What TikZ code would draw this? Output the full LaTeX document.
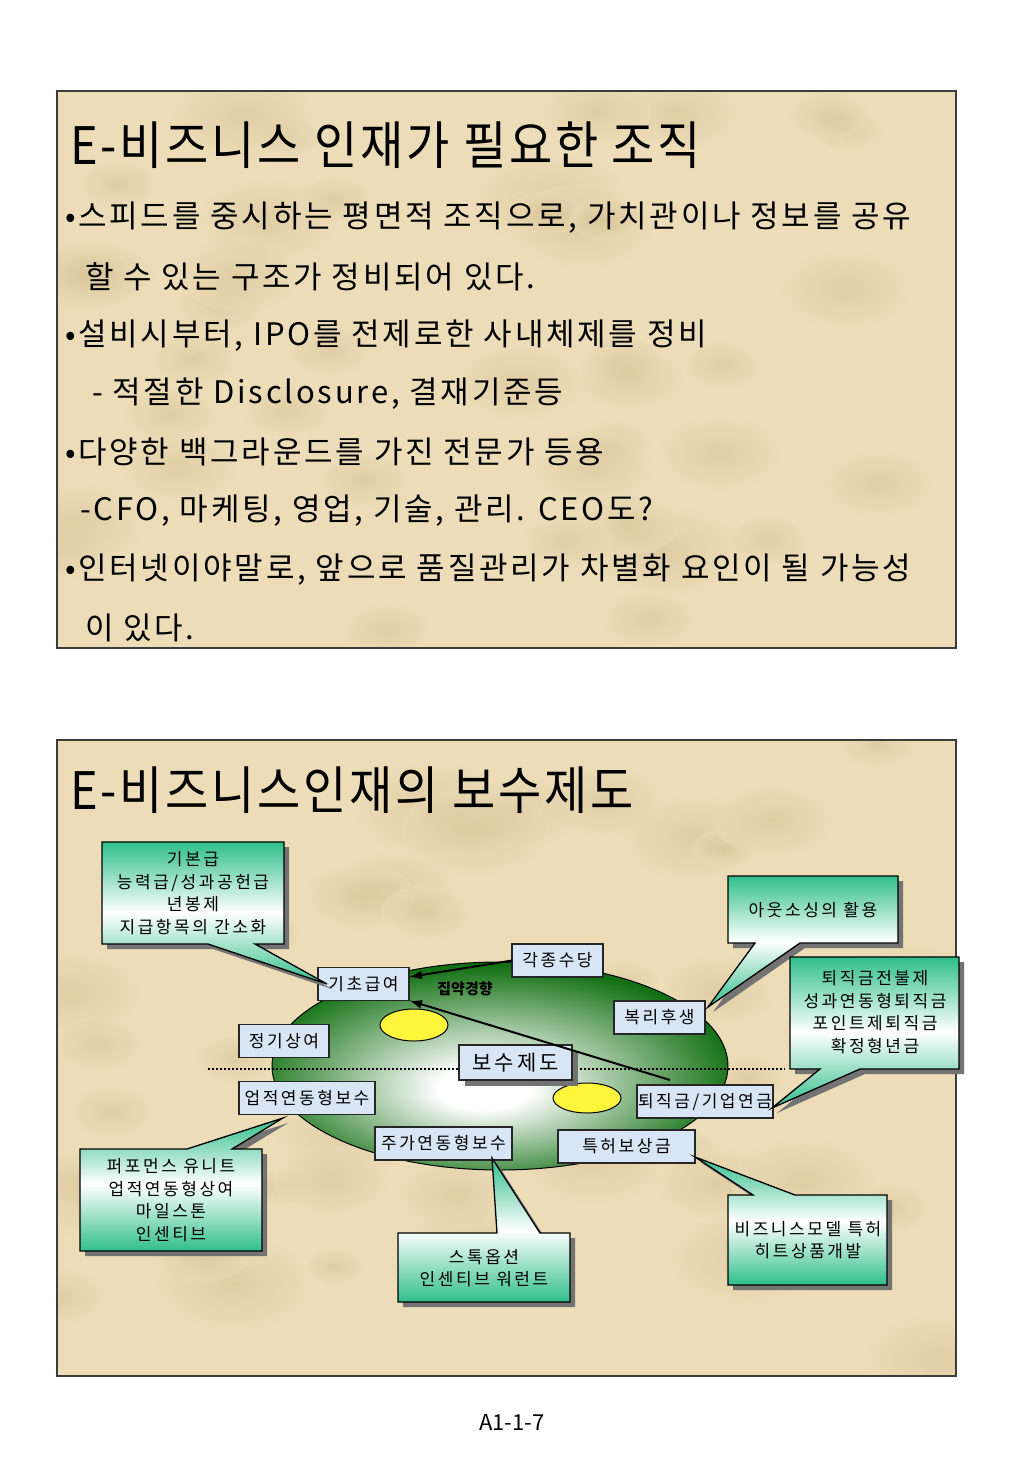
\documentclass[tikz,border=0pt]{standalone}
\usepackage{fontspec}
\setmainfont{Noto Sans CJK KR}
\newfontfamily\bodyfont[LetterSpace=9]{Noto Sans CJK KR}
\newfontfamily\titlefont[LetterSpace=6]{Noto Sans CJK KR}
\newfontfamily\diagfont[LetterSpace=15]{Noto Sans CJK KR}
\usetikzlibrary{arrows.meta,shadings}
\definecolor{parch}{RGB}{236,221,184}
\definecolor{parchdark}{RGB}{210,186,140}
\definecolor{framec}{RGB}{60,60,60}
\definecolor{boxblue}{RGB}{216,229,244}
\definecolor{callg}{RGB}{48,190,140}
\definecolor{dgreen}{RGB}{18,112,18}
\definecolor{yel}{RGB}{255,245,60}
\pgfdeclareradialshading{ellshade}{\pgfpoint{-2bp}{-6bp}}{color(0bp)=(white); color(5bp)=(white); color(16bp)=(dgreen!50!white); color(27bp)=(dgreen); color(50bp)=(dgreen)}
\begin{document}
\begin{tikzpicture}[x=1pt,y=-1pt,
  every node/.style={inner sep=0pt, outer sep=0pt},
  bodytxt/.style={anchor=west, font=\bodyfont\fontsize{31}{31}\selectfont},
  titletxt/.style={anchor=west, font=\titlefont\fontsize{47}{47}\selectfont},
  labbox/.style={draw=black!85, line width=1.3pt, fill=boxblue, font=\diagfont\fontsize{17}{17}\selectfont, minimum height=33pt},
  callout/.style={draw=black, line width=1.3pt, top color=callg, bottom color=callg, middle color=white},
  callshadow/.style={fill=black!55},
  calltxt/.style={align=center, font=\diagfont\fontsize{17}{22.5}\selectfont},
  arr/.style={line width=2pt, -{Latex[length=13pt,width=9pt]}},
  blot/.style={inner color=parchdark, outer color=parch},
]
\useasboundingbox (0,0) rectangle (1024,1479);
\fill[white] (0,0) rectangle (1024,1479);

% ---------- slide backgrounds with soft mottling ----------
\fill[parch] (57,91) rectangle (956,648);
\fill[parch] (57,740) rectangle (956,1376);
\pgfmathsetseed{11}
\begin{scope}
  \clip (57,91) rectangle (956,648);
  \foreach \i in {1,...,40} {
    \pgfmathsetmacro{\bx}{57+rnd*899}
    \pgfmathsetmacro{\by}{91+rnd*557}
    \pgfmathsetmacro{\br}{30+rnd*50}
    \shade[blot, opacity=0.45] (\bx,\by) ellipse [x radius=\br, y radius=0.6*\br];
  }
\end{scope}
\begin{scope}
  \clip (57,740) rectangle (956,1376);
  \foreach \i in {1,...,45} {
    \pgfmathsetmacro{\bx}{57+rnd*899}
    \pgfmathsetmacro{\by}{740+rnd*636}
    \pgfmathsetmacro{\br}{30+rnd*50}
    \shade[blot, opacity=0.45] (\bx,\by) ellipse [x radius=\br, y radius=0.6*\br];
  }
\end{scope}
\draw[framec, line width=1.5pt] (57,91) rectangle (956,648);
\draw[framec, line width=1.5pt] (57,740) rectangle (956,1376);

% ---------- slide 1 ----------
\node[titletxt] (t1) at (70,145) {\scalebox{1}[1.1]{E-비즈니스 인재가 필요한 조직}};
\node[bodytxt] (l1) at (65,218) {•스피드를 중시하는 평면적 조직으로, 가치관이나 정보를 공유};
\node[bodytxt] (l2) at (85,277) {할 수 있는 구조가 정비되어 있다.};
\node[bodytxt] (l3) at (65,336) {•설비시부터, IPO를 전제로한 사내체제를 정비};
\node[bodytxt] (l4) at (92,394) {- 적절한 Disclosure, 결재기준등};
\node[bodytxt] (l5) at (65,452) {•다양한 백그라운드를 가진 전문가 등용};
\node[bodytxt] (l6) at (80,511) {-CFO, 마케팅, 영업, 기술, 관리. CEO도?};
\node[bodytxt] (l7) at (65,570) {•인터넷이야말로, 앞으로 품질관리가 차별화 요인이 될 가능성};
\node[bodytxt] (l8) at (85,628) {이 있다.};

% ---------- slide 2 ----------
\node[titletxt] (t2) at (70,790) {\scalebox{1}[1.1]{E-비즈니스인재의 보수제도}};

% big ellipse
\shade[shading=ellshade, draw=black, line width=1pt] (500,1066) ellipse [x radius=228, y radius=104];
% dotted line
\coordinate (dl) at (208,1069);
\coordinate (dr) at (785,1069);
\draw[line width=1.6pt, dash pattern=on 1.6pt off 2.4pt] (dl) -- (dr);
% yellow ellipses
\filldraw[fill=yel, draw=black, line width=1pt] (414,1025) ellipse [x radius=34, y radius=16];
\filldraw[fill=yel, draw=black, line width=1pt] (587,1098) ellipse [x radius=34, y radius=15];

% label boxes
\node[labbox, minimum width=91pt] (kicho) at (363.5,984) {기초급여};
\node[labbox, minimum width=90pt] (jeonggi) at (284,1041) {정기상여};
\node[labbox, minimum width=136pt] (eopjeok) at (307,1098) {업적연동형보수};
\node[labbox, minimum width=91pt] (kakjong) at (557.5,960.5) {각종수당};
\node[labbox, minimum width=91pt] (bokri) at (659.5,1017.5) {복리후생};
\node[labbox, minimum width=136pt] (toejik) at (705,1101.5) {퇴직금/기업연금};
\node[labbox, minimum width=137pt] (juga) at (443.5,1143.5) {주가연동형보수};
\node[labbox, minimum width=137pt] (teukheo) at (626.5,1146.5) {특허보상금};
\fill[black!55] (465,1051) rectangle (578,1086);
\node[labbox, minimum width=113pt, minimum height=35pt, font=\diagfont\fontsize{21}{21}\selectfont] (bosu) at (515.5,1062.5) {보수제도};
\node[font=\fontsize{15}{15}\selectfont\bfseries] (jibyak) at (465,989) {집약경향};

% arrows
\draw[arr] (kakjong.west) -- ([yshift=7pt]kicho.east);
\coordinate (longstart) at (670,1080);
\draw[arr] (longstart) -- (kicho.south east);

% callouts
\coordinate (tipA) at (327,984);
\fill[callshadow, shift={(5,5)}] (102,842) -- (284,842) -- (284,944) -- (255,944) -- (327,984) -- (208,944) -- (102,944) -- cycle;
\path[callout] (102,842) -- (284,842) -- (284,944) -- (255,944) -- (tipA) -- (208,944) -- (102,944) -- cycle;
\node[calltxt] (cA) at (193,893) {기본급\\능력급/성과공헌급\\년봉제\\지급항목의 간소화};

\coordinate (tipB) at (708,1007);
\fill[callshadow, shift={(5,5)}] (728,876) -- (898,876) -- (898,943) -- (800,943) -- (708,1007) -- (755,943) -- (728,943) -- cycle;
\path[callout] (728,876) -- (898,876) -- (898,943) -- (800,943) -- (tipB) -- (755,943) -- (728,943) -- cycle;
\node[calltxt] (cB) at (813,910) {아웃소싱의 활용};

\coordinate (tipC) at (772,1108);
\fill[callshadow, shift={(5,5)}] (790,957) -- (959,957) -- (959,1069) -- (860,1069) -- (772,1108) -- (820,1069) -- (790,1069) -- cycle;
\path[callout] (790,957) -- (959,957) -- (959,1069) -- (860,1069) -- (tipC) -- (820,1069) -- (790,1069) -- cycle;
\node[calltxt] (cC) at (875,1012) {퇴직금전불제\\성과연동형퇴직금\\포인트제퇴직금\\확정형년금};

\coordinate (tipD) at (283,1118);
\fill[callshadow, shift={(5,5)}] (80,1149) -- (187,1149) -- (283,1118) -- (232,1149) -- (262,1149) -- (262,1251) -- (80,1251) -- cycle;
\path[callout] (80,1149) -- (187,1149) -- (tipD) -- (232,1149) -- (262,1149) -- (262,1251) -- (80,1251) -- cycle;
\node[calltxt] (cD) at (171,1200) {퍼포먼스 유니트\\업적연동형상여\\마일스톤\\인센티브};

\coordinate (tipE) at (492,1158);
\fill[callshadow, shift={(5,5)}] (398,1233) -- (497,1233) -- (492,1158) -- (540,1233) -- (570,1233) -- (570,1302) -- (398,1302) -- cycle;
\path[callout] (398,1233) -- (497,1233) -- (tipE) -- (540,1233) -- (570,1233) -- (570,1302) -- (398,1302) -- cycle;
\node[calltxt] (cE) at (484,1268) {스톡옵션\\인센티브 워런트};

\coordinate (tipF) at (695,1157);
\fill[callshadow, shift={(5,5)}] (728,1195) -- (753,1195) -- (695,1157) -- (795,1195) -- (887,1195) -- (887,1285) -- (728,1285) -- cycle;
\path[callout] (728,1195) -- (753,1195) -- (tipF) -- (795,1195) -- (887,1195) -- (887,1285) -- (728,1285) -- cycle;
\node[calltxt] (cF) at (808,1240) {비즈니스모델 특허\\히트상품개발};

% page number
\node[font=\fontsize{22}{22}\selectfont] (pg) at (512,1422) {A1-1-7};
\end{tikzpicture}
\end{document}
